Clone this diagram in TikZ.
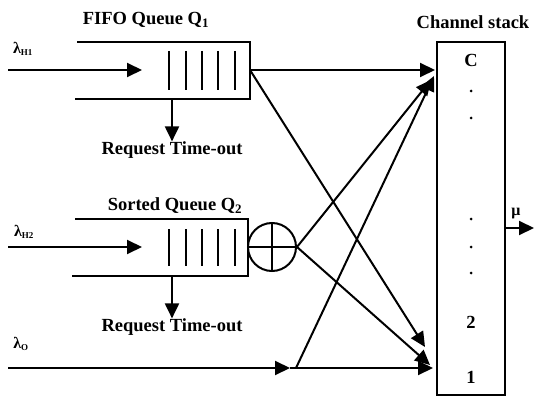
\documentclass[tikz,border=0pt]{standalone}
\usepackage{fontspec}
\setmainfont{Liberation Serif}
\usetikzlibrary{arrows.meta}
\begin{document}
\begin{tikzpicture}[x=1pt,y=-1pt,
  ln/.style={line width=2pt},
  arr/.style={line width=2pt,-{Triangle[length=15pt,width=14pt]}},
  lbl/.style={font=\bfseries\fontsize{18.5}{18.5}\selectfont,inner sep=0pt},
  lam/.style={font=\bfseries\fontsize{16}{16}\selectfont,inner sep=0pt},
  bar/.style={line width=2.4pt},
  dotmark/.style={circle,fill=black,inner sep=0pt,minimum size=3pt}]
\useasboundingbox (0,0) rectangle (535,398);
% ---------- Queue 1 ----------
\coordinate (q1tl) at (77,42);
\coordinate (q1tr) at (250,42);
\coordinate (q1bl) at (75,99);
\coordinate (q1br) at (250,99);
\coordinate (q1out) at (250,70);
\coordinate (q1in) at (8,70);
\coordinate (q1inend) at (142,70);
\coordinate (q1to) at (172,99);
\draw[ln] (q1tl) -- (q1tr) -- (q1br) -- (q1bl);
\foreach \x in {169,186,202,218,235} \draw[bar] (\x,51) -- (\x,90);
\node[lbl] (q1name) at (146,20) {FIFO Queue Q\textsubscript{1}};
\node[lam] (l1) at (23,49) {λ\textsubscript{\fontsize{9}{9}\selectfont H1}};
\draw[arr] (q1in) -- (q1inend);
\node[lbl] (to1) at (172,150) {Request Time-out};
\draw[arr] (q1to) -- (to1.north -| q1to);
% ---------- Queue 2 ----------
\coordinate (q2tl) at (75,219);
\coordinate (q2tr) at (248,219);
\coordinate (q2bl) at (72,276);
\coordinate (q2br) at (248,276);
\coordinate (q2in) at (8,247);
\coordinate (q2inend) at (142,247);
\coordinate (q2to) at (172,276);
\draw[ln] (q2tl) -- (q2tr) -- (q2br) -- (q2bl);
\foreach \x in {169,186,202,218,235} \draw[bar] (\x,229) -- (\x,266);
\node[lbl] (q2name) at (175,206) {Sorted Queue Q\textsubscript{2}};
\node[lam] (l2) at (24,232) {λ\textsubscript{\fontsize{9}{9}\selectfont H2}};
\draw[arr] (q2in) -- (q2inend);
\node[lbl] (to2) at (172,327) {Request Time-out};
\draw[arr] (q2to) -- (to2.north -| q2to);
% ---------- Combiner ----------
\node[circle,draw,line width=2pt,minimum size=48pt,inner sep=0pt] (plus) at (272,247) {};
\draw[ln] (plus.north) -- (plus.south) (plus.west) -- (plus.east);
% ---------- Lambda O ----------
\coordinate (lin) at (8,368);
\coordinate (ljoin) at (296,368);
\node[lam] (l0) at (21,344) {λ\textsubscript{\fontsize{9}{9}\selectfont O}};
\draw[arr] (lin) -- (290,368);
\draw[ln] (290,368) -- (ljoin);
% ---------- Channel stack ----------
\node[draw,line width=2pt,minimum width=68pt,minimum height=353pt,inner sep=0pt] (stack) at (471,218.5) {};
\node[lbl] (csname) at (473,22) {Channel stack};
\node[lbl] (cC) at (471,60) {C};
\node[lbl] (c2) at (471,322) {2};
\node[lbl] (c1) at (471,377) {1};
\foreach \y/\n in {91/a,118/b,219/c,247/d,273/e} \node[dotmark] (dot\n) at (471,\y) {};
\coordinate (tC) at (435,70);
\coordinate (tC2) at (431,80);
\coordinate (tC3) at (434,76);
\coordinate (t2) at (425,347);
\coordinate (t1a) at (430,365);
\coordinate (t1b) at (433,368);
% ---------- Connectors ----------
\draw[arr] (q1out) -- (tC);
\draw[arr] (q1out) -- (t2);
\draw[arr] (plus.east) -- (tC2);
\draw[arr] (plus.east) -- (t1a);
\draw[arr] (ljoin) -- (tC3);
\draw[arr] (ljoin) -- (t1b);
% ---------- Output ----------
\coordinate (mu) at (534,228);
\draw[arr] (stack.east |- mu) -- (mu);
\node[lam] (mulbl) at (516,214) {μ};
\end{tikzpicture}
\end{document}
